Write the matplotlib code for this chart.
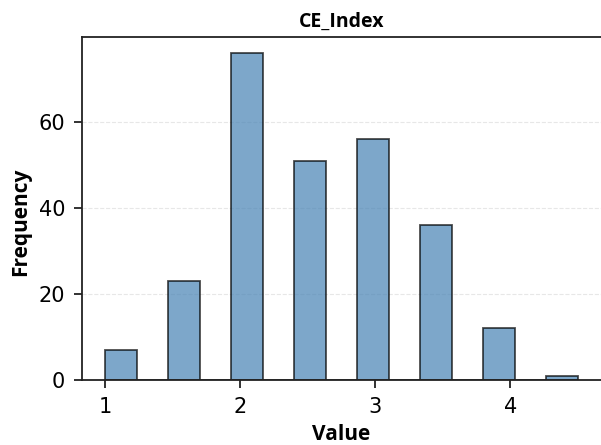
import matplotlib
matplotlib.use('Agg')
import matplotlib.pyplot as plt

values = [1.0, 1.5, 2.0, 2.5, 3.0, 3.5, 4.0, 4.5]
counts = [7, 23, 76, 51, 56, 36, 12, 1]
title = 'CE_Index'

fig = plt.figure(figsize=(6.01, 4.45), dpi=100)
ax = fig.add_axes([0.136, 0.146, 0.865, 0.771])

ax.hist(values, bins=15, weights=counts, color='steelblue', alpha=0.7,
        edgecolor='black', linewidth=1.3)

ax.set_title(title, fontsize=14, fontweight='bold', family='Open Sans', pad=7)
ax.set_xlabel('Value', fontsize=15, fontweight='bold', family='Open Sans')
ax.set_ylabel('Frequency', fontsize=15, fontweight='bold', family='Open Sans')
ax.xaxis.set_label_coords(0.499, -0.127)
ax.yaxis.set_label_coords(-0.097, 0.462)
ax.set_xticks([1, 2, 3, 4])
ax.set_yticks([0, 20, 40, 60])
ax.tick_params(labelsize=15, length=6, width=1.3, color='#222222', pad=6)
ax.grid(axis='y', linestyle='--', alpha=0.3)
ax.set_axisbelow(True)
for s in ax.spines.values():
    s.set_linewidth(1.3)
    s.set_color('#222222')

fig.savefig('out.png', dpi=100)
